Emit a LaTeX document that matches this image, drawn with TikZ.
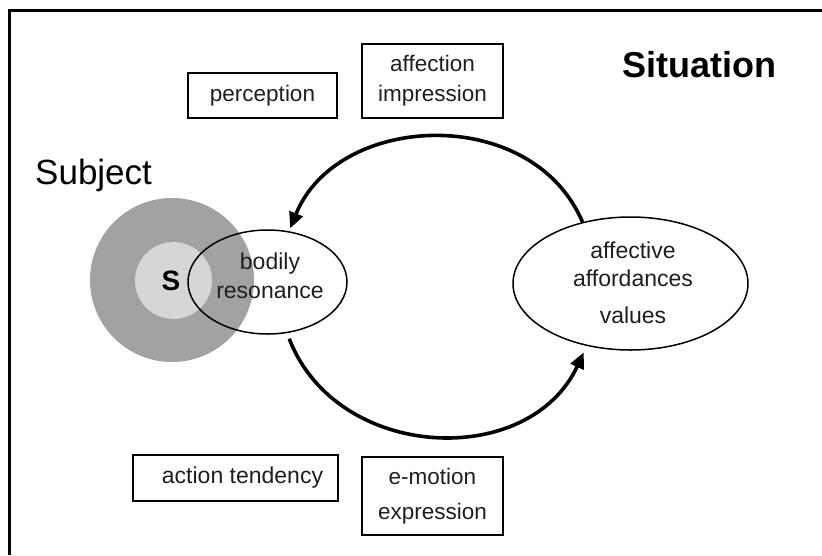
\documentclass[tikz,border=0pt]{standalone}
\usepackage{fontspec}
\setmainfont{Liberation Sans}
\usetikzlibrary{arrows.meta,shapes.geometric}
\definecolor{outergray}{RGB}{162,162,162}
\definecolor{innergray}{RGB}{214,214,214}
\definecolor{inkgray}{RGB}{30,30,30}
\begin{document}
\begin{tikzpicture}[x=1pt,y=1pt,
  boxnode/.style={draw, line width=1.8pt, inner sep=0pt, align=center, text=inkgray},
  ellnode/.style={draw, ellipse, line width=1.5pt, inner sep=0pt},
  lbl/.style={text=inkgray, inner sep=0pt, anchor=base, font=\fontsize{23}{29}\selectfont},
  arcarrow/.style={line width=3.6pt, -{Triangle[length=16pt,width=14pt]}},
]
\useasboundingbox (0,0) rectangle (822,-555);
\draw[line width=3pt] (9,-555) -- (9,-10) -- (822,-10);

% titles
\node[anchor=base west, inner sep=0pt, font=\bfseries\fontsize{36}{40}\selectfont] (sit) at (622,-77) {Situation};
\node[anchor=base west, inner sep=0pt, font=\fontsize{35}{40}\selectfont] (subj) at (35,-184) {Subject};

% subject circles
\fill[outergray] (172,-280) circle[radius=82];
\fill[innergray] (173.5,-280.5) circle[radius=38.5];
\node[anchor=base, inner sep=0pt, font=\bfseries\fontsize{28}{30}\selectfont] (s) at (171,-290) {S};

% ellipses
\node[ellnode, minimum width=159pt, minimum height=104pt] (body) at (267.5,-282) {};
\node[lbl] (bodyA) at (270,-269) {bodily};
\node[lbl] (bodyB) at (270,-298) {resonance};

\node[ellnode, minimum width=235pt, minimum height=133pt] (aff) at (630.5,-283.5) {};
\node[lbl] (affA) at (633,-258) {affective};
\node[lbl] (affB) at (633,-286) {affordances};
\node[lbl] (affC) at (633,-323) {values};

% boxes
\node[boxnode, minimum width=149pt, minimum height=45pt, font=\fontsize{22.5}{30}\selectfont] (perc) at (262.5,-95.5) {perception};
\node[boxnode, minimum width=141pt, minimum height=74pt, font=\fontsize{22.5}{30}\selectfont] (affimp) at (432.5,-81) {affection\\impression};
\node[boxnode, minimum width=205pt, minimum height=46pt, font=\fontsize{23}{30}\selectfont] (act) at (235.5,-478) {\hspace*{14pt}action tendency};
\node[boxnode, minimum width=141pt, minimum height=78pt, font=\fontsize{22.5}{35}\selectfont] (emo) at (432.5,-496) {e-motion\\expression};

% cycle arrows
\draw[arcarrow, shorten >=3pt] (aff.128) to[out=113, in=68, looseness=1.12] (body.67);
\draw[arcarrow, shorten <=6pt, shorten >=7pt] (body.-69) to[out=291, in=245, looseness=1.17] (aff.-125);
\end{tikzpicture}
\end{document}
